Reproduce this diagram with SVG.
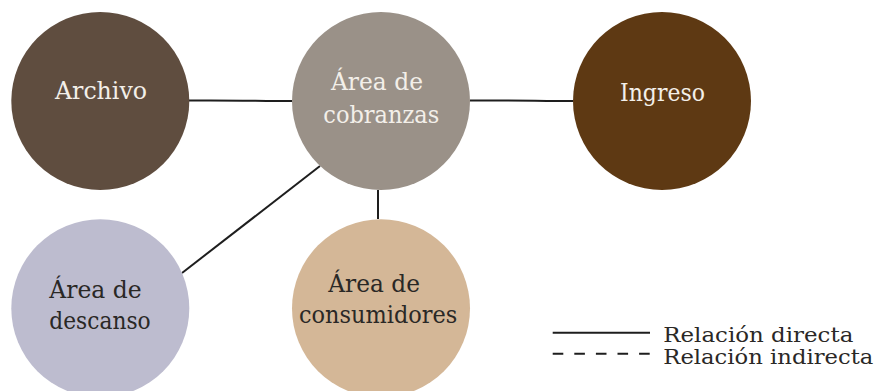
<svg xmlns="http://www.w3.org/2000/svg" width="881" height="391" viewBox="0 0 881 391">
<style>
text{font-family:'DejaVu Serif','Liberation Serif',serif;font-size:24px}
.lt{fill:#f3efe9}
.dk{fill:#2a2826}
.lg{font-size:20px}
.ln{stroke:#1e1e1e;stroke-width:2;fill:none}
</style>
<rect width="881" height="391" fill="#ffffff"/>
<g id="connectors">
<path class="ln" d="M189,100.5 C230,100 260,101 292,101"/>
<path class="ln" d="M470,100.5 C510,100 540,101 573,101"/>
<line class="ln" x1="320" y1="166" x2="182" y2="273"/>
<line class="ln" x1="378" y1="190" x2="378" y2="219"/>
</g>
<g id="archivo">
<circle cx="100.3" cy="101" r="89" fill="#5f4d3f"/>
<text class="lt" x="55" y="99" textLength="92" lengthAdjust="spacingAndGlyphs">Archivo</text>
</g>
<g id="cobranzas">
<circle cx="381" cy="101" r="89" fill="#9a9188"/>
<text class="lt" x="331" y="90" textLength="92" lengthAdjust="spacingAndGlyphs">Área de</text>
<text class="lt" x="323.3" y="123.3" textLength="116" lengthAdjust="spacingAndGlyphs">cobranzas</text>
</g>
<g id="ingreso">
<circle cx="662" cy="101" r="89" fill="#5e3913"/>
<text class="lt" x="620" y="100.7" textLength="85" lengthAdjust="spacingAndGlyphs">Ingreso</text>
</g>
<g id="descanso">
<circle cx="100.3" cy="308.3" r="89" fill="#bdbccf"/>
<text class="dk" x="49.3" y="298.3" textLength="92.4" lengthAdjust="spacingAndGlyphs">Área de</text>
<text class="dk" x="49.3" y="329.3" textLength="101.4" lengthAdjust="spacingAndGlyphs">descanso</text>
</g>
<g id="consumidores">
<circle cx="381" cy="308.3" r="89" fill="#d4b797"/>
<text class="dk" x="328.3" y="291.7" textLength="91.7" lengthAdjust="spacingAndGlyphs">Área de</text>
<text class="dk" x="299" y="322.7" textLength="158.3" lengthAdjust="spacingAndGlyphs">consumidores</text>
</g>
<g id="legend">
<line class="ln" x1="552.7" y1="332.7" x2="650" y2="332.7"/>
<line class="ln" x1="552.7" y1="353.7" x2="650" y2="353.7" stroke-dasharray="10.6 11"/>
<text class="dk lg" x="663.3" y="342.3" textLength="190" lengthAdjust="spacingAndGlyphs">Relación directa</text>
<text class="dk lg" x="663.3" y="364.3" textLength="210" lengthAdjust="spacingAndGlyphs">Relación indirecta</text>
</g>
</svg>
